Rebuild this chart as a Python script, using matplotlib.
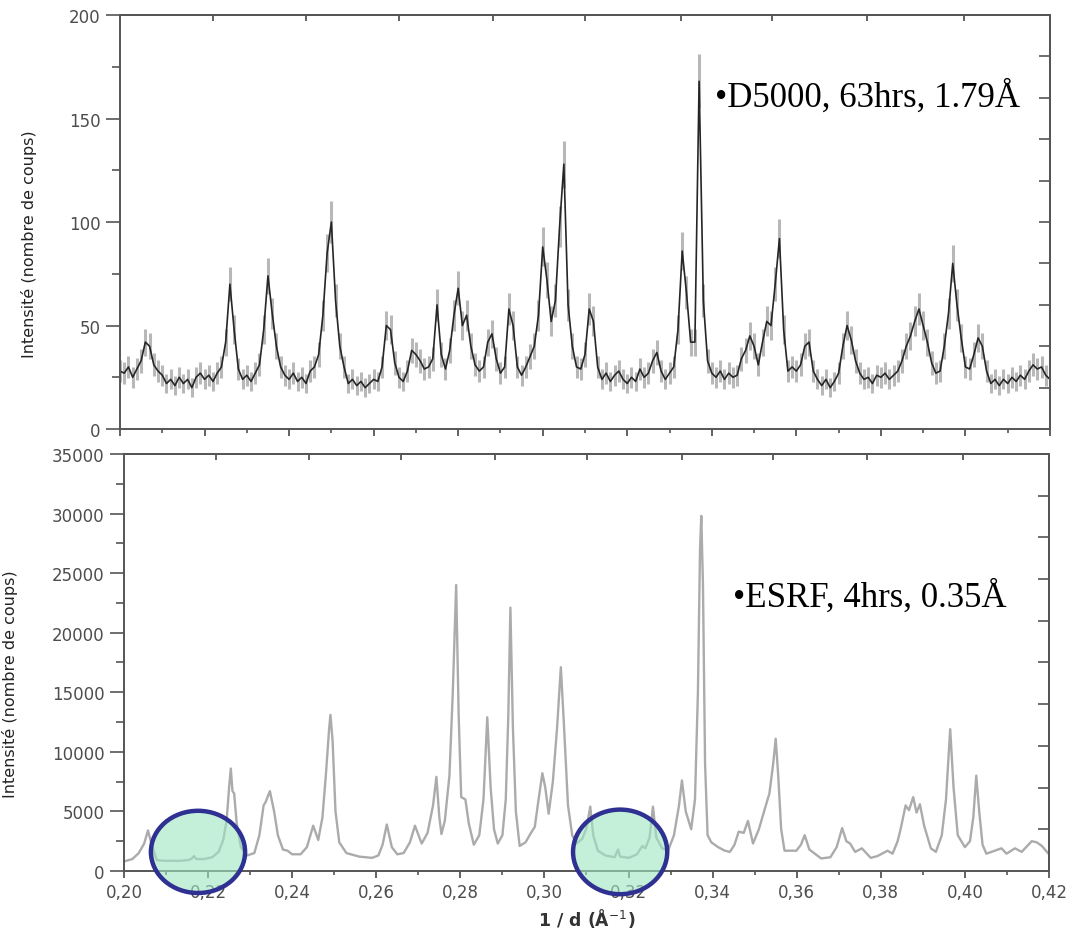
import numpy as np
import matplotlib
matplotlib.use('Agg')
import matplotlib.pyplot as plt
from matplotlib.patches import Ellipse
from matplotlib.ticker import MultipleLocator, FuncFormatter, NullFormatter
from matplotlib import font_manager

# ---------------- data ----------------
# D5000 laboratory pattern: counts on a 0.001 A^-1 grid from 0.200 to 0.420
d5000_counts = [
    28, 27, 30, 25, 29, 33, 42, 40, 31, 28,
    26, 22, 24, 21, 25, 22, 24, 20, 25, 27,
    24, 26, 23, 27, 30, 42, 70, 48, 29, 24,
    26, 23, 27, 31, 48, 74, 56, 40, 30, 26,
    24, 27, 23, 25, 22, 28, 30, 36, 55, 85,
    100, 62, 40, 30, 22, 24, 21, 23, 20, 22,
    24, 23, 30, 50, 48, 32, 25, 23, 28, 38,
    36, 33, 29, 30, 34, 60, 36, 29, 38, 55,
    68, 50, 55, 40, 31, 28, 30, 42, 46, 34,
    27, 30, 58, 50, 30, 26, 30, 35, 40, 55,
    88, 72, 52, 62, 98, 128, 60, 40, 30, 29,
    36, 58, 52, 30, 24, 27, 23, 26, 28, 24,
    22, 25, 23, 29, 25, 27, 33, 37, 28, 24,
    27, 30, 48, 86, 66, 42, 42, 168, 62, 33,
    27, 25, 28, 24, 27, 25, 26, 34, 38, 45,
    40, 31, 42, 52, 50, 70, 92, 48, 28, 30,
    28, 31, 40, 42, 28, 24, 21, 24, 20, 23,
    27, 40, 50, 43, 33, 27, 24, 25, 22, 26,
    25, 27, 24, 26, 28, 33, 40, 45, 52, 58,
    50, 42, 32, 27, 28, 40, 56, 80, 60, 44,
    30, 29, 36, 44, 40, 28, 22, 24, 21, 24,
    22, 25, 23, 26, 24, 28, 31, 29, 30, 26,
    24,
]
d5000_start, d5000_stop = 0.20, 0.42

# ESRF synchrotron pattern: 1/d positions and counts
esrf_invd = [
    0.2000, 0.2020, 0.2035, 0.2048, 0.2057, 0.2066, 0.2078, 0.2100, 0.2130, 0.2150,
    0.2160, 0.2166, 0.2172, 0.2190, 0.2210, 0.2225, 0.2236, 0.2244, 0.2250, 0.2254,
    0.2258, 0.2262, 0.2268, 0.2278, 0.2293, 0.2310, 0.2322, 0.2332, 0.2337, 0.2347,
    0.2357, 0.2366, 0.2378, 0.2389, 0.2400, 0.2420, 0.2435, 0.2450, 0.2462, 0.2472,
    0.2480, 0.2488, 0.2491, 0.2496, 0.2503, 0.2512, 0.2529, 0.2560, 0.2590, 0.2605,
    0.2615, 0.2625, 0.2637, 0.2650, 0.2665, 0.2680, 0.2692, 0.2708, 0.2722, 0.2735,
    0.2743, 0.2750, 0.2755, 0.2763, 0.2774, 0.2782, 0.2790, 0.2796, 0.2802, 0.2812,
    0.2820, 0.2832, 0.2845, 0.2855, 0.2864, 0.2872, 0.2880, 0.2889, 0.2900, 0.2908,
    0.2914, 0.2919, 0.2925, 0.2932, 0.2941, 0.2955, 0.2968, 0.2977, 0.2986, 0.2995,
    0.3002, 0.3010, 0.3020, 0.3030, 0.3039, 0.3046, 0.3056, 0.3066, 0.3076, 0.3090,
    0.3100, 0.3109, 0.3116, 0.3127, 0.3145, 0.3167, 0.3175, 0.3180, 0.3201, 0.3220,
    0.3233, 0.3240, 0.3250, 0.3258, 0.3266, 0.3280, 0.3294, 0.3308, 0.3320, 0.3327,
    0.3336, 0.3349, 0.3358, 0.3365, 0.3370, 0.3373, 0.3377, 0.3382, 0.3388, 0.3397,
    0.3413, 0.3429, 0.3441, 0.3452, 0.3462, 0.3474, 0.3484, 0.3496, 0.3510, 0.3524,
    0.3535, 0.3544, 0.3550, 0.3556, 0.3563, 0.3571, 0.3599, 0.3610, 0.3619, 0.3630,
    0.3658, 0.3680, 0.3695, 0.3708, 0.3718, 0.3727, 0.3739, 0.3755, 0.3776, 0.3792,
    0.3816, 0.3828, 0.3840, 0.3847, 0.3859, 0.3867, 0.3877, 0.3885, 0.3893, 0.3903,
    0.3919, 0.3931, 0.3945, 0.3955, 0.3965, 0.3973, 0.3983, 0.4000, 0.4012, 0.4020,
    0.4027, 0.4034, 0.4042, 0.4051, 0.4071, 0.4087, 0.4099, 0.4119, 0.4135, 0.4159,
    0.4171, 0.4183, 0.4200,
]
esrf_counts = [
    800, 1000, 1500, 2300, 3400, 2200, 900, 850, 850, 900,
    1000, 1250, 1000, 1000, 1150, 1600, 2600, 4200, 7000, 8600,
    6700, 6500, 4000, 2000, 1300, 1500, 3000, 5500, 5800, 6700,
    5000, 3000, 1800, 1700, 1400, 1400, 2000, 3800, 2600, 4500,
    8000, 12000, 13100, 11000, 5000, 2400, 1500, 1200, 1100, 1300,
    2200, 3900, 2000, 1400, 1500, 2400, 3800, 2300, 3200, 5500,
    7900, 4500, 3100, 4200, 8000, 15000, 24000, 13000, 6200, 6000,
    4000, 2200, 3000, 6000, 12900, 7000, 3500, 2300, 3000, 6000,
    13000, 22100, 12000, 5000, 2100, 2400, 3200, 3700, 6000, 8200,
    7000, 4800, 7500, 12000, 17100, 12500, 5500, 3000, 2300, 2700,
    3600, 5400, 3000, 1700, 1300, 1150, 1800, 1200, 1100, 1400,
    2100, 1900, 2800, 5400, 2800, 1900, 1700, 3000, 5500, 7600,
    5000, 3500, 6000, 15000, 27000, 29800, 24000, 9000, 3000, 2400,
    2000, 1700, 1600, 2200, 3300, 3200, 4200, 2300, 3500, 5200,
    6500, 9000, 11100, 8000, 3500, 1700, 1700, 2200, 3000, 1800,
    1050, 1150, 2000, 3600, 2500, 2300, 1600, 1900, 1100, 1250,
    1700, 1450, 2500, 3500, 5500, 5100, 6200, 4900, 5600, 3800,
    1900, 1600, 3000, 6000, 11900, 7000, 3000, 2000, 2500, 4500,
    8000, 5000, 2200, 1450, 1700, 1900, 1450, 1900, 1600, 2500,
    2400, 2100, 1400,
]

top_label = "\u2022D5000, 63hrs, 1.79\u00c5"
bottom_label = "\u2022ESRF, 4hrs, 0.35\u00c5"
ylabel_text = "Intensit\u00e9 (nombre de coups)"
xlabel_text = "1 / d (\u00c5$^{-1}$)"

# ---------------- styling ----------------
upper_axis_ticks = [0.2220, 0.2440, 0.2660, 0.2882, 0.3101, 0.3326, 0.3543, 0.3766, 0.3996]
spine_col = '#555555'
tick_col = '#4d4d4d'

names = {f.name for f in font_manager.fontManager.ttflist}
if 'Liberation Sans Narrow' in names:
    ylab_kw = dict(family='Liberation Sans Narrow', fontsize=14)
else:
    ylab_kw = dict(family='DejaVu Sans', fontsize=11.5)

fig = plt.figure(figsize=(10.82, 9.29), dpi=100)
ax1 = fig.add_axes([0.1109, 0.5371, 0.8595, 0.4456])
ax2 = fig.add_axes([0.1146, 0.0614, 0.8549, 0.4489])

# top: lab diffractometer with counting errors
x_top = np.linspace(d5000_start, d5000_stop, len(d5000_counts))
y_top = np.asarray(d5000_counts, dtype=float)
ax1.errorbar(x_top, y_top, yerr=np.sqrt(y_top), fmt='-', color='#262626', lw=1.2,
             ecolor='#b8b8b8', elinewidth=2.2, capsize=0)
ax1.set_xlim(0.20, 0.42)
ax1.set_ylim(0, 200)

# bottom: synchrotron
ax2.plot(esrf_invd, esrf_counts, color='#ababab', lw=1.7)
ax2.set_xlim(0.20, 0.42)
ax2.set_ylim(0, 35000)

comma = FuncFormatter(lambda v, p: f"{v:.2f}".replace('.', ','))

for ax, ymaj, ymin, rstep, ytop in ((ax1, 50, 25, 20, 200), (ax2, 5000, 2500, 3500, 35000)):
    for s in ax.spines.values():
        s.set_color(spine_col)
        s.set_linewidth(1.4)
    ax.xaxis.set_major_locator(MultipleLocator(0.02))
    ax.xaxis.set_minor_locator(MultipleLocator(0.01))
    ax.yaxis.set_major_locator(MultipleLocator(ymaj))
    ax.yaxis.set_minor_locator(MultipleLocator(ymin))
    ax.tick_params(axis='x', which='major', direction='out', length=5, width=1.3,
                   color=spine_col, labelsize=12, labelcolor=tick_col, pad=4)
    ax.tick_params(axis='x', which='minor', direction='out', length=3, width=1.2, color=spine_col)
    ax.tick_params(axis='y', which='major', direction='out', length=10, width=1.2,
                   color=spine_col, labelsize=12, labelcolor=tick_col, pad=4)
    ax.tick_params(axis='y', which='minor', direction='out', length=6, width=1.2, color=spine_col)
    sy = ax.secondary_yaxis('right')
    sy.set_yticks(np.arange(rstep, ytop, rstep))
    sy.tick_params(direction='in', length=8, width=1.2, color=spine_col, labelright=False)
    sy.spines['right'].set_color(spine_col)
    sy.spines['right'].set_linewidth(1.4)
    sx = ax.secondary_xaxis('top')
    sx.set_xticks(upper_axis_ticks)
    sx.tick_params(direction='in', length=4, width=1.3, color=spine_col, labeltop=False)
    sx.spines['top'].set_color(spine_col)
    sx.spines['top'].set_linewidth(1.4)
    ax.set_ylabel(ylabel_text, color='#222222', **ylab_kw)

ax1.xaxis.set_major_formatter(NullFormatter())
ax2.xaxis.set_major_formatter(comma)
ax1.yaxis.set_label_coords(-0.089, 0.45)
ax2.yaxis.set_label_coords(-0.115, 0.45)
ax2.set_xlabel(xlabel_text, fontsize=12.5, fontweight='bold', color='#333333')
ax2.xaxis.set_label_coords(0.5, -0.085)

# highlighted regions
for cx, w, h in ((0.2176, 0.0224, 6900), (0.3180, 0.0224, 7100)):
    ax2.add_patch(Ellipse((cx, 1600), w, h, facecolor=(0.62, 0.90, 0.76, 0.6),
                          edgecolor='#2e3192', lw=3.2, clip_on=False, zorder=5))

fig.text(0.6608, 0.8848, top_label, family='Liberation Serif', fontsize=25,
         ha='left', va='baseline', color='black')
fig.text(0.6774, 0.3466, bottom_label, family='Liberation Serif', fontsize=25,
         ha='left', va='baseline', color='black')

fig.savefig('out.png', dpi=100)
